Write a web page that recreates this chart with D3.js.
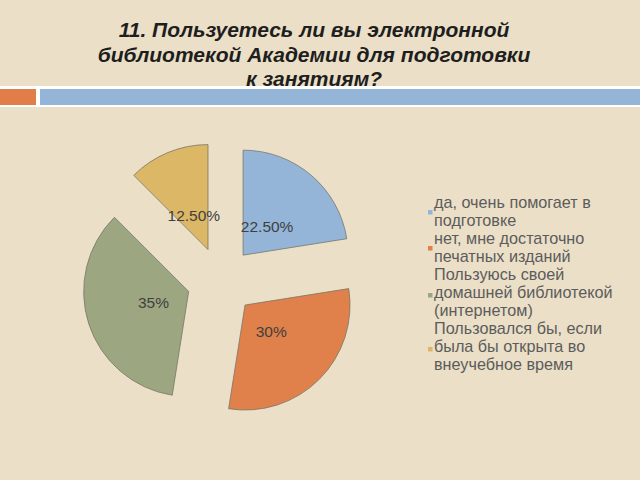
<!DOCTYPE html>
<html lang="ru">
	<head>
		<meta charset="utf-8">
		<title>Электронная библиотека</title>
		<script type="text/javascript" src="https://d3js.org/d3.v7.min.js"></script>
		<style type="text/css">
			body { margin: 0; background: #ebdfc7; }
			svg { display: block; }
			.title {
				font-family: "Liberation Sans", Arial, sans-serif;
				font-size: 21px;
				font-weight: bold;
				font-style: italic;
				fill: #1e1e1e;
			}
			.lbl {
				font-family: "Liberation Sans", Arial, sans-serif;
				font-size: 15.5px;
				fill: #3f3f3f;
			}
			.legend text {
				font-family: "Liberation Sans", Arial, sans-serif;
				font-size: 16.2px;
				fill: #5c5c5c;
			}
		</style>
	</head>
	<body>
		<script type="text/javascript">

			// data
			var titleLines = ["11. Пользуетесь ли вы электронной", "библиотекой Академии для подготовки", "к занятиям?"];
			var categories = [
				"да, очень помогает в подготовке",
				"нет, мне достаточно печатных изданий",
				"Пользуюсь своей домашней библиотекой (интернетом)",
				"Пользовался бы, если была бы открыта во внеучебное время"
			];
			var values = [22.5, 30, 35, 12.5];
			var valueLabels = ["22.50%", "30%", "35%", "12.50%"];
			var colors = ["#94b5d8", "#e0804a", "#9ca680", "#dcb765"];

			var w = 640;
			var h = 480;

			var svg = d3.select("body")
						.append("svg")
						.attr("width", w)
						.attr("height", h);

			svg.append("rect")
				.attr("width", w)
				.attr("height", h)
				.attr("fill", "#ebdfc7");

			//Title
			svg.selectAll("text.title")
				.data(titleLines)
				.enter()
				.append("text")
				.attr("class", "title")
				.attr("x", 314)
				.attr("y", function(d, i) { return 37 + i * 24.5; })
				.attr("text-anchor", "middle")
				.text(function(d) { return d; });

			//Header bars
			svg.append("rect").attr("x", 0).attr("y", 86).attr("width", w).attr("height", 21).attr("fill", "#ffffff");
			svg.append("rect").attr("x", 0).attr("y", 89).attr("width", 36).attr("height", 16).attr("fill", "#e07d48");
			svg.append("rect").attr("x", 40).attr("y", 89).attr("width", w - 40).attr("height", 16).attr("fill", "#94b5d8");

			//Pie
			var cx = 221, cy = 281;
			var r = 105;
			var explode = 34;

			var pie = d3.pie().sort(null);
			var arc = d3.arc().innerRadius(0).outerRadius(r);
			var labelArc = d3.arc().innerRadius(0).outerRadius(74);

			var slices = svg.selectAll("g.arc")
						.data(pie(values))
						.enter()
						.append("g")
						.attr("class", "arc")
						.attr("transform", function(d) {
							var a = (d.startAngle + d.endAngle) / 2;
							return "translate(" + (cx + explode * Math.sin(a)) + "," + (cy - explode * Math.cos(a)) + ")";
						});

			slices.append("path")
				.attr("fill", function(d, i) { return colors[i]; })
				.attr("stroke", "#77776a")
				.attr("stroke-width", 0.8)
				.attr("d", arc);

			slices.append("text")
				.attr("class", "lbl")
				.attr("transform", function(d) {
					return "translate(" + labelArc.centroid(d) + ")";
				})
				.attr("text-anchor", "middle")
				.attr("dy", "0.35em")
				.text(function(d, i) { return valueLabels[i]; });

			//Legend
			var legend = svg.append("g").attr("class", "legend");
			var lineH = 18;
			var maxW = 186;
			var y0 = 202;

			categories.forEach(function(cat, i) {
				var t = legend.append("text").attr("x", 434);
				var words = cat.split(" ");
				var lines = [];
				var line = [];
				var probe = legend.append("text").attr("x", -500);
				words.forEach(function(wd) {
					line.push(wd);
					probe.text(line.join(" "));
					if (probe.node().getComputedTextLength() > maxW && line.length > 1) {
						line.pop();
						lines.push(line.join(" "));
						line = [wd];
					}
				});
				lines.push(line.join(" "));
				probe.remove();

				lines.forEach(function(l, j) {
					t.append("tspan")
						.attr("x", 434)
						.attr("y", y0 + j * lineH)
						.attr("dy", "0.35em")
						.text(l);
				});

				var mid = y0 + (lines.length - 1) * lineH / 2;
				legend.append("rect")
					.attr("x", 428)
					.attr("y", mid + 5 - (lines.length == 2 ? 6 : 4))
					.attr("width", 4.5)
					.attr("height", 4.5)
					.attr("fill", colors[i]);

				y0 += lines.length * lineH;
			});

		</script>
	</body>
</html>
